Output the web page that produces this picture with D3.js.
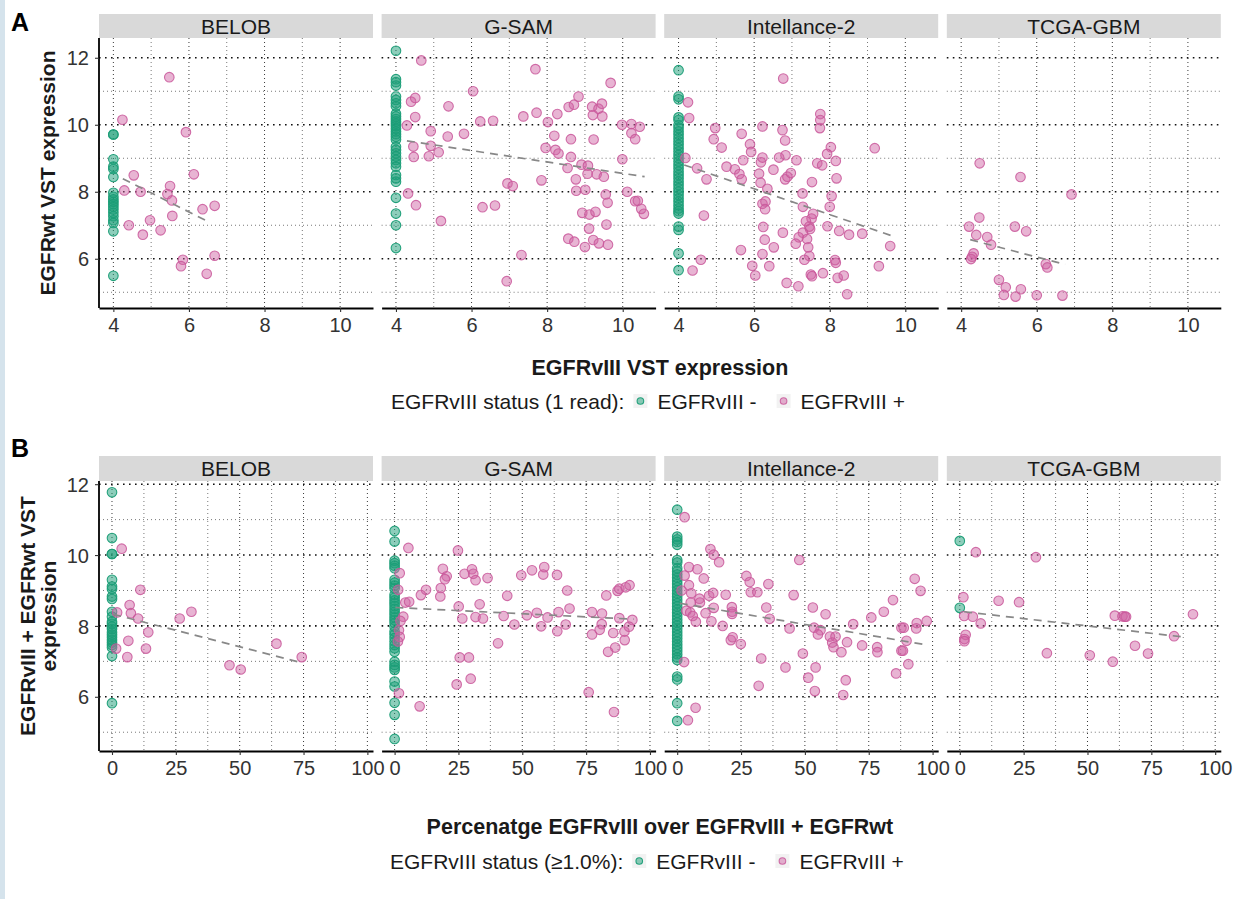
<!DOCTYPE html>
<html>
<head>
<meta charset="utf-8">
<script src="https://cdn.jsdelivr.net/npm/d3@7"></script>
<style>
  body { margin: 0; background: #fff; }
  svg { display: block; font-family: "Liberation Sans", Arial, Helvetica, sans-serif; }
</style>
</head>
<body>
<div id="chart"></div>
<script>
  // Facets (cohorts)
  var FACETS = ['BELOB', 'G-SAM', 'Intellance-2', 'TCGA-GBM'];

  // Panel A: EGFRvIII VST (x) vs EGFRwt VST (y)
  // EGFRvIII- samples all sit at x = 4, so only y is kept
  var A_NEG_X = 4;
  var aBelobNeg = [9.71, 9.71, 8.97, 8.75, 8.68, 8.44, 7.97, 7.85, 7.77, 7.70, 7.63, 7.55, 7.47, 7.37, 7.27, 7.15, 7.07, 6.82, 5.49];
  var aGsamNeg = [12.21, 11.36, 11.27, 11.17, 10.84, 10.74, 10.64, 10.55, 10.33, 10.25, 10.17, 10.10, 10.03, 9.96, 9.88, 9.80, 9.72, 9.64, 9.56, 9.34, 9.25, 9.15, 9.05, 8.95, 8.85, 8.75, 8.50, 8.40, 8.30, 7.82, 7.35, 7.00, 6.32];
  var aIntelNeg = [11.63, 10.84, 10.76, 10.22, 10.14, 9.99, 9.90, 9.80, 9.70, 9.60, 9.50, 9.40, 9.30, 9.20, 9.10, 9.00, 8.90, 8.80, 8.70, 8.60, 8.50, 8.40, 8.30, 8.20, 8.10, 8.00, 7.90, 7.80, 7.70, 7.60, 7.50, 7.42, 7.35, 6.96, 6.86, 6.16, 5.66];
  var aTcgaNeg = [];

  var aBelobPos = [[5.48, 11.42], [4.24, 10.15], [5.92, 9.78], [4.54, 8.49], [6.13, 8.52], [4.29, 8.04], [4.72, 8.0], [5.50, 8.17], [5.43, 7.93], [5.55, 7.74], [6.36, 7.48], [6.68, 7.58], [5.56, 7.28], [4.97, 7.15], [4.41, 7.0], [5.25, 6.85], [4.78, 6.72], [5.84, 5.97], [5.79, 5.78], [6.68, 6.09], [6.47, 5.55]];
  var aGsamPos = [[4.67, 11.92], [7.69, 11.66], [9.68, 11.25], [6.04, 11.0], [4.40, 10.69], [4.51, 10.80], [5.39, 10.55], [8.83, 10.84], [8.57, 10.53], [8.71, 10.60], [9.19, 10.54], [9.36, 10.48], [9.45, 10.63], [9.21, 10.29], [9.46, 10.25], [7.72, 10.36], [8.27, 10.32], [7.37, 10.25], [6.23, 10.10], [6.57, 10.12], [4.51, 10.23], [4.29, 9.98], [8.02, 10.08], [9.98, 10.0], [10.23, 10.02], [10.45, 9.94], [10.23, 9.75], [10.33, 9.57], [4.92, 9.81], [5.37, 9.65], [5.80, 9.73], [8.19, 9.67], [8.63, 9.57], [9.23, 9.56], [4.46, 9.35], [4.92, 9.37], [5.13, 9.18], [4.47, 9.04], [4.87, 9.06], [7.96, 9.31], [8.22, 9.25], [8.30, 9.14], [8.63, 9.04], [9.99, 8.97], [8.91, 8.81], [9.08, 8.78], [8.54, 8.71], [9.07, 8.54], [9.31, 8.52], [9.50, 8.45], [8.76, 8.37], [7.85, 8.34], [6.95, 8.25], [7.09, 8.17], [4.32, 7.95], [8.77, 8.03], [9.01, 8.06], [9.55, 7.92], [10.12, 8.0], [9.60, 7.67], [10.33, 7.72], [10.40, 7.73], [10.49, 7.49], [10.56, 7.34], [4.53, 7.60], [6.29, 7.54], [6.62, 7.59], [8.93, 7.37], [9.12, 7.32], [9.28, 7.40], [5.19, 7.13], [9.11, 6.90], [9.57, 7.02], [8.56, 6.60], [8.72, 6.51], [9.22, 6.56], [9.37, 6.46], [9.61, 6.42], [9.0, 6.35], [7.32, 6.11], [6.93, 5.33]];
  var aIntelPos = [[6.77, 11.38], [4.25, 10.67], [4.28, 10.20], [4.97, 9.90], [4.93, 9.57], [5.14, 9.32], [5.67, 9.73], [5.89, 9.42], [5.92, 9.19], [6.22, 9.95], [6.75, 9.84], [6.82, 9.53], [7.75, 10.32], [7.75, 10.14], [7.74, 9.90], [8.03, 9.33], [7.93, 9.13], [8.16, 8.92], [9.19, 9.30], [4.18, 9.01], [4.49, 8.70], [4.74, 8.37], [5.27, 8.75], [5.49, 8.67], [5.61, 8.53], [5.67, 8.37], [5.71, 8.94], [6.18, 8.88], [6.22, 9.02], [6.13, 8.54], [6.17, 8.27], [6.35, 8.09], [6.51, 8.66], [6.66, 9.02], [6.83, 9.09], [7.12, 8.94], [6.82, 8.37], [6.88, 8.45], [6.97, 8.56], [7.67, 8.85], [7.80, 8.79], [8.18, 8.40], [7.53, 8.29], [7.28, 7.95], [8.05, 7.87], [6.22, 7.64], [6.30, 7.71], [6.29, 7.48], [7.29, 7.55], [8.0, 7.55], [7.56, 7.34], [7.52, 7.20], [7.37, 7.12], [7.46, 6.96], [7.48, 6.89], [7.94, 6.97], [8.25, 6.83], [8.51, 6.72], [8.86, 6.75], [9.60, 6.38], [4.67, 7.29], [6.24, 6.95], [6.76, 6.78], [7.29, 6.78], [7.18, 6.64], [7.10, 6.45], [7.40, 6.59], [7.43, 6.34], [6.28, 6.57], [6.52, 6.34], [5.65, 6.26], [6.22, 6.14], [7.46, 6.08], [7.33, 5.97], [4.59, 5.97], [4.37, 5.65], [5.95, 5.79], [6.03, 5.50], [6.40, 5.78], [8.14, 5.96], [8.16, 5.88], [7.50, 5.53], [7.53, 5.48], [7.82, 5.57], [8.21, 5.43], [8.37, 5.50], [6.86, 5.28], [7.17, 5.18], [8.46, 4.94], [9.30, 5.78]];
  var aTcgaPos = [[4.49, 8.85], [5.57, 8.44], [6.92, 7.92], [4.48, 7.23], [4.21, 6.96], [5.42, 6.96], [5.72, 6.82], [4.40, 6.71], [4.69, 6.65], [4.79, 6.42], [4.33, 6.16], [4.29, 6.06], [4.26, 5.99], [6.24, 5.84], [6.28, 5.74], [5.0, 5.37], [5.18, 5.15], [5.13, 4.92], [5.44, 4.87], [5.58, 5.09], [6.0, 4.91], [6.68, 4.90]];

  // dashed fit lines, [x1, y1, x2, y2]
  var aFits = [[4.25, 8.39, 6.56, 7.08], [4.29, 9.52, 10.58, 8.45], [4.15, 8.80, 9.63, 6.69], [4.24, 6.57, 6.75, 5.83]];

  // Panel B: percentage EGFRvIII (x) vs EGFRvIII + EGFRwt VST (y)
  var B_NEG_X = 0;
  var bBelobNeg = [11.77, 10.48, 10.03, 10.03, 9.30, 9.11, 9.04, 8.83, 8.76, 8.40, 8.26, 8.12, 8.06, 7.98, 7.91, 7.82, 7.75, 7.68, 7.60, 7.53, 7.46, 7.39, 7.15, 5.82];
  var bGsamNeg = [10.68, 10.38, 9.84, 9.77, 9.70, 9.63, 9.30, 9.22, 9.14, 9.06, 8.88, 8.80, 8.72, 8.64, 8.56, 8.48, 8.40, 8.32, 8.24, 8.16, 8.08, 7.98, 7.84, 7.76, 7.66, 7.56, 7.46, 7.37, 7.27, 6.99, 6.90, 6.83, 6.76, 6.43, 6.29, 5.83, 5.49, 4.81];
  var bIntelNeg = [11.28, 10.52, 10.44, 10.37, 10.29, 9.86, 9.79, 9.63, 9.54, 9.45, 9.36, 9.27, 9.18, 9.09, 9.00, 8.91, 8.82, 8.73, 8.64, 8.55, 8.46, 8.37, 8.28, 8.19, 8.10, 8.01, 7.92, 7.83, 7.74, 7.65, 7.56, 7.47, 7.38, 7.29, 7.20, 7.11, 7.04, 6.57, 6.49, 5.82, 5.32];
  var bTcgaNeg = [10.40, 8.51];

  var bBelobPos = [[3.8, 10.18], [11.1, 9.02], [6.9, 8.59], [7.4, 8.36], [2.0, 8.38], [10.2, 8.21], [26.5, 8.21], [31.1, 8.40], [14.2, 7.82], [6.4, 7.58], [1.6, 7.36], [13.3, 7.36], [6.0, 7.12], [64.4, 7.50], [74.3, 7.12], [46.0, 6.89], [50.4, 6.77]];
  var bGsamPos = [[5.4, 10.20], [24.8, 10.13], [2.0, 9.49], [18.9, 9.61], [20.4, 9.40], [19.7, 9.32], [18.1, 9.07], [17.9, 8.83], [12.3, 9.02], [10.3, 8.87], [1.4, 9.02], [27.4, 9.47], [30.3, 9.60], [30.8, 9.47], [31.7, 9.29], [36.4, 9.35], [49.6, 9.43], [53.8, 9.57], [58.6, 9.66], [58.2, 9.45], [63.6, 9.44], [67.6, 9.0], [44.1, 8.85], [82.9, 8.86], [87.3, 8.99], [88.0, 9.05], [90.5, 9.09], [92.0, 9.15], [4.2, 8.66], [5.7, 8.68], [25.1, 8.55], [33.3, 8.61], [3.4, 8.26], [2.3, 8.14], [26.5, 8.21], [31.7, 8.25], [34.6, 8.21], [42.7, 8.28], [51.8, 8.30], [55.7, 8.37], [59.9, 8.24], [64.2, 8.39], [68.5, 8.49], [77.3, 8.39], [81.2, 8.35], [88.0, 8.22], [93.1, 8.17], [46.9, 8.04], [57.4, 7.99], [67.0, 8.04], [81.1, 8.05], [80.3, 7.89], [63.7, 7.85], [77.3, 7.76], [85.6, 7.80], [90.0, 7.84], [91.8, 7.98], [1.7, 7.88], [2.0, 7.69], [1.3, 7.56], [40.5, 7.51], [90.1, 7.60], [86.4, 7.39], [83.6, 7.27], [25.5, 7.11], [29.1, 7.11], [29.8, 6.51], [24.3, 6.35], [1.7, 6.10], [76.0, 6.13], [9.8, 5.73], [85.9, 5.57]];
  var bIntelPos = [[2.9, 11.07], [13.0, 10.17], [14.3, 10.01], [16.4, 9.80], [47.8, 9.86], [4.6, 9.66], [7.9, 9.60], [2.9, 9.42], [10.4, 9.34], [4.6, 9.15], [5.5, 8.92], [1.7, 9.0], [27.1, 9.41], [28.4, 9.24], [28.8, 8.95], [31.4, 8.95], [35.7, 9.18], [93.0, 9.33], [95.3, 8.99], [84.5, 8.73], [80.9, 8.40], [45.6, 8.87], [12.5, 8.85], [14.1, 8.93], [19.0, 8.88], [8.7, 8.77], [8.9, 8.66], [5.3, 8.66], [3.6, 8.43], [5.1, 8.38], [6.1, 8.28], [7.3, 8.12], [11.1, 8.36], [14.3, 8.51], [21.4, 8.53], [21.5, 8.40], [21.5, 8.34], [13.4, 8.13], [17.8, 8.0], [34.9, 8.52], [36.2, 8.20], [53.1, 8.52], [58.1, 8.33], [76.0, 8.24], [68.9, 8.05], [44.0, 7.93], [53.6, 7.95], [56.1, 7.88], [55.1, 7.76], [59.8, 7.70], [62.0, 7.70], [60.7, 7.53], [61.2, 7.40], [66.5, 7.54], [72.4, 7.45], [78.3, 7.40], [78.4, 7.26], [87.8, 7.95], [88.7, 7.95], [93.6, 7.93], [93.8, 8.08], [97.7, 8.14], [89.8, 7.58], [87.8, 7.30], [88.4, 7.30], [90.5, 6.92], [85.7, 6.66], [21.0, 7.60], [21.7, 7.68], [24.9, 7.49], [49.2, 7.22], [64.3, 7.26], [32.9, 7.08], [2.7, 6.98], [42.4, 6.83], [54.2, 6.83], [51.3, 6.54], [66.0, 6.47], [31.9, 6.31], [53.9, 6.16], [65.0, 6.05], [7.2, 5.69], [4.2, 5.34]];
  var bTcgaPos = [[6.3, 10.08], [29.8, 9.94], [1.4, 8.81], [15.2, 8.71], [23.2, 8.67], [1.7, 8.28], [5.1, 8.26], [8.2, 8.07], [2.3, 7.75], [1.8, 7.63], [1.8, 7.57], [60.7, 8.29], [63.7, 8.27], [65.1, 8.26], [64.6, 8.26], [91.3, 8.33], [83.9, 7.71], [68.6, 7.44], [73.7, 7.22], [34.1, 7.23], [50.9, 7.17], [59.9, 6.99]];

  var bFits = [[0.5, 8.33, 74.3, 6.96], [0.3, 8.52, 93.6, 8.19], [1.0, 8.64, 98.0, 7.46], [1.7, 8.40, 88.5, 7.68]];

  // Tick values
  var A_X_TICKS = [4, 6, 8, 10], A_X_MINOR = [5, 7, 9];
  var B_X_TICKS = [0, 25, 50, 75, 100], B_X_MINOR = [12.5, 37.5, 62.5, 87.5];
  var Y_TICKS = [6, 8, 10, 12], Y_MINOR = [5, 7, 9, 11];

  // status colours: fill / outline
  var NEG = { fill: '#1B9E77', fillOpacity: 0.5, stroke: '#1B9E77', strokeOpacity: 0.95 };
  var POS = { fill: '#CF63A2', fillOpacity: 0.48, stroke: '#C9579A', strokeOpacity: 0.85 };

  // Layout
  var W = 1244, H = 899;
  var FACET_X0 = 99, FACET_STEP = 282.6, FACET_W = 274;

  var svg = d3.select('#chart').append('svg')
    .attr('width', W)
    .attr('height', H);

  svg.append('rect')
    .attr('x', 0).attr('y', 0)
    .attr('width', 5).attr('height', H)
    .attr('fill', '#d5e3ec');

  function styleDot(sel, st) {
    sel.attr('fill', st.fill)
      .attr('fill-opacity', st.fillOpacity)
      .attr('stroke', st.stroke)
      .attr('stroke-opacity', st.strokeOpacity)
      .attr('stroke-width', 1.1);
  }

  function drawPoints(g, pts, st, x, y) {
    g.selectAll(null)
      .data(pts)
      .join('circle')
      .attr('cx', function (d) { return x(d[0]); })
      .attr('cy', function (d) { return y(d[1]); })
      .attr('r', 4.8)
      .call(styleDot, st);
  }

  function drawRow(cfg) {
    var x = d3.scaleLinear().domain(cfg.xDomain).range([0, FACET_W]);
    var y = d3.scaleLinear().domain(cfg.yDomain).range([cfg.bottom, cfg.top]);

    FACETS.forEach(function (name, i) {
      var g = svg.append('g')
        .attr('transform', 'translate(' + (FACET_X0 + i * FACET_STEP) + ',0)');

      // strip
      g.append('rect')
        .attr('x', 0).attr('y', cfg.stripTop)
        .attr('width', FACET_W).attr('height', cfg.top - cfg.stripTop)
        .attr('fill', '#d9d9d9');
      g.append('text')
        .attr('x', FACET_W / 2)
        .attr('y', (cfg.stripTop + cfg.top) / 2 + 7.5)
        .attr('text-anchor', 'middle')
        .attr('font-size', '21px')
        .attr('fill', '#1a1a1a')
        .text(name);

      // minor grid
      g.selectAll(null).data(cfg.xMinor).join('line')
        .attr('x1', x).attr('x2', x)
        .attr('y1', cfg.top).attr('y2', cfg.bottom)
        .attr('stroke', '#555').attr('stroke-width', 0.8)
        .attr('stroke-dasharray', '1,3');
      g.selectAll(null).data(Y_MINOR).join('line')
        .attr('x1', 0).attr('x2', FACET_W)
        .attr('y1', y).attr('y2', y)
        .attr('stroke', '#555').attr('stroke-width', 0.8)
        .attr('stroke-dasharray', '1,3');

      // major grid
      g.selectAll(null).data(cfg.xTicks).join('line')
        .attr('x1', x).attr('x2', x)
        .attr('y1', cfg.top).attr('y2', cfg.bottom)
        .attr('stroke', '#222').attr('stroke-width', 0.9)
        .attr('stroke-dasharray', '1,3');
      g.selectAll(null).data(Y_TICKS).join('line')
        .attr('x1', 0).attr('x2', FACET_W)
        .attr('y1', y).attr('y2', y)
        .attr('stroke', '#111').attr('stroke-width', 1.6)
        .attr('stroke-dasharray', '1.6,4.4');

      // points
      var neg = cfg.neg[i].map(function (v) { return [cfg.negX, v]; });
      drawPoints(g, neg, NEG, x, y);
      drawPoints(g, cfg.pos[i], POS, x, y);

      // fit line
      var f = cfg.fits[i];
      g.append('line')
        .attr('x1', x(f[0])).attr('y1', y(f[1]))
        .attr('x2', x(f[2])).attr('y2', y(f[3]))
        .attr('stroke', '#888').attr('stroke-width', 1.7)
        .attr('stroke-dasharray', '8,6');

      // bottom axis
      var xAxis = g.append('g')
        .attr('transform', 'translate(0,' + cfg.bottom + ')')
        .call(d3.axisBottom(x).tickValues(cfg.xTicks).tickSize(4).tickSizeOuter(0).tickPadding(6));
      styleAxis(xAxis);

      // left axis only on the first facet
      if (i === 0) {
        var yAxis = g.append('g')
          .call(d3.axisLeft(y).tickValues(Y_TICKS).tickSize(4).tickSizeOuter(0).tickPadding(6));
        styleAxis(yAxis);
        yAxis.select('.domain').attr('d', 'M0,' + cfg.top + 'V' + cfg.bottom);
        yAxis.selectAll('.tick text').attr('dy', '0.36em');
      }
    });
  }

  function styleAxis(sel) {
    sel.select('.domain').attr('stroke', '#000').attr('stroke-width', 1.8);
    sel.selectAll('.tick line').attr('stroke', '#333').attr('stroke-width', 1.1);
    sel.selectAll('.tick text')
      .attr('fill', '#333')
      .attr('font-size', '20px')
      .attr('font-family', '"Liberation Sans", Arial, sans-serif');
  }

  function drawLegend(startX, cy, title) {
    var g = svg.append('g');
    var t = g.append('text')
      .attr('x', startX).attr('y', cy + 7.5)
      .attr('font-size', '21px').attr('fill', '#1a1a1a')
      .text(title);
    var cx = startX + t.node().getComputedTextLength() + 9;
    [['EGFRvIII -', NEG], ['EGFRvIII +', POS]].forEach(function (item) {
      g.append('rect')
        .attr('x', cx).attr('y', cy - 7)
        .attr('width', 14).attr('height', 14)
        .attr('fill', '#f2f2f2');
      g.append('circle')
        .attr('cx', cx + 7).attr('cy', cy)
        .attr('r', 3.3)
        .call(styleDot, item[1]);
      var lt = g.append('text')
        .attr('x', cx + 24).attr('y', cy + 7.5)
        .attr('font-size', '21px').attr('fill', '#1a1a1a')
        .text(item[0]);
      cx = cx + 24 + lt.node().getComputedTextLength() + 20;
    });
  }

  // Row A
  drawRow({
    stripTop: 14, top: 38, bottom: 308,
    xDomain: [3.62, 10.87], yDomain: [4.53, 12.59],
    xTicks: A_X_TICKS, xMinor: A_X_MINOR,
    negX: A_NEG_X,
    neg: [aBelobNeg, aGsamNeg, aIntelNeg, aTcgaNeg],
    pos: [aBelobPos, aGsamPos, aIntelPos, aTcgaPos],
    fits: aFits
  });

  // Row B
  drawRow({
    stripTop: 456, top: 481, bottom: 751,
    xDomain: [-5.09, 102.2], yDomain: [4.47, 12.09],
    xTicks: B_X_TICKS, xMinor: B_X_MINOR,
    negX: B_NEG_X,
    neg: [bBelobNeg, bGsamNeg, bIntelNeg, bTcgaNeg],
    pos: [bBelobPos, bGsamPos, bIntelPos, bTcgaPos],
    fits: bFits
  });

  // Panel letters
  svg.append('text').attr('x', 11).attr('y', 31)
    .attr('font-size', '25px').attr('font-weight', 'bold').text('A');
  svg.append('text').attr('x', 11).attr('y', 457)
    .attr('font-size', '25px').attr('font-weight', 'bold').text('B');

  // Axis titles
  var midX = FACET_X0 + (3 * FACET_STEP + FACET_W) / 2;
  svg.append('text').attr('x', midX).attr('y', 375)
    .attr('text-anchor', 'middle').attr('font-size', '21.5px').attr('font-weight', 'bold')
    .attr('fill', '#1a1a1a')
    .text('EGFRvIII VST expression');
  svg.append('text').attr('x', midX).attr('y', 834)
    .attr('text-anchor', 'middle').attr('font-size', '21.5px').attr('font-weight', 'bold')
    .attr('fill', '#1a1a1a')
    .text('Percenatge EGFRvIII over EGFRvIII + EGFRwt');

  svg.append('text')
    .attr('transform', 'translate(55,173) rotate(-90)')
    .attr('text-anchor', 'middle').attr('font-size', '21px').attr('font-weight', 'bold')
    .attr('fill', '#1a1a1a')
    .text('EGFRwt VST expression');
  svg.append('text')
    .attr('transform', 'translate(35,616) rotate(-90)')
    .attr('text-anchor', 'middle').attr('font-size', '21px').attr('font-weight', 'bold')
    .attr('fill', '#1a1a1a')
    .text('EGFRvIII + EGFRwt VST');
  svg.append('text')
    .attr('transform', 'translate(56,616) rotate(-90)')
    .attr('text-anchor', 'middle').attr('font-size', '21px').attr('font-weight', 'bold')
    .attr('fill', '#1a1a1a')
    .text('expression');

  // Legends
  drawLegend(391, 401, 'EGFRvIII status (1 read):');
  drawLegend(390, 861, 'EGFRvIII status (\u22651.0%):');
</script>
</body>
</html>
